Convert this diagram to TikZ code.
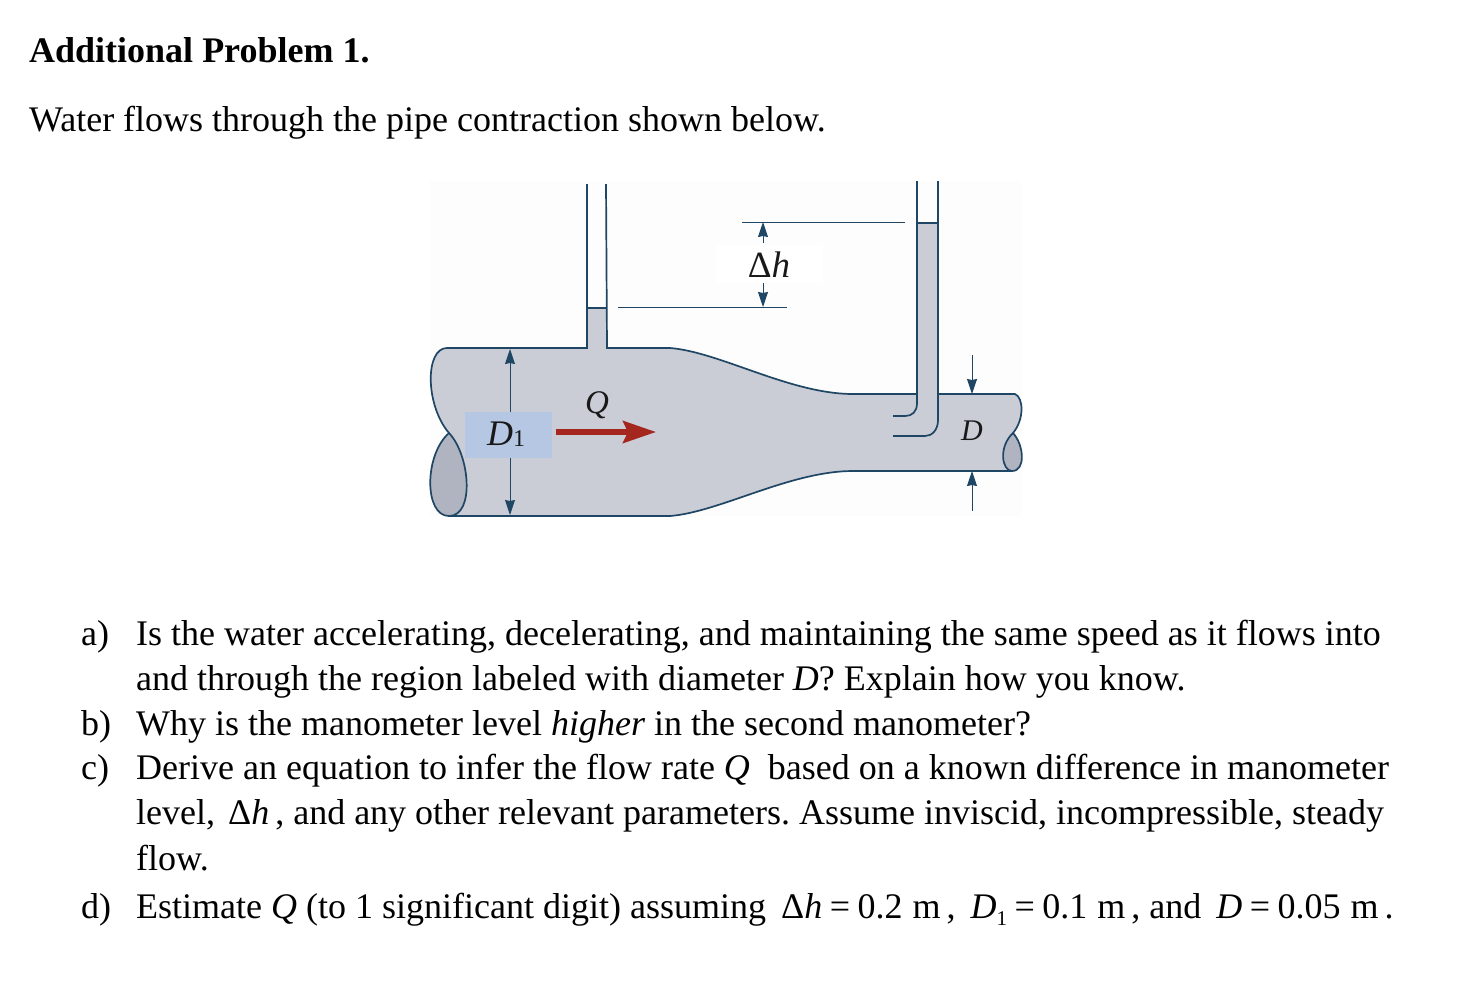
\documentclass[tikz,border=0pt]{standalone}
\usepackage{fontspec}
\setmainfont{Liberation Serif}
\usetikzlibrary{arrows.meta}
\definecolor{wallc}{HTML}{1F4664}
\definecolor{waterc}{HTML}{CBCDD6}
\definecolor{endc}{HTML}{B0B4C0}
\definecolor{boxc}{HTML}{B5C7E3}
\definecolor{redc}{HTML}{A5261E}
\definecolor{bgc}{HTML}{FDFDFD}
\newcommand{\subone}{{\fontsize{21}{21}\selectfont\raisebox{-7pt}{1}}}
\newcommand{\eqsign}{\hspace{7.5pt}=\hspace{7.5pt}}
\newcommand{\unitm}{\hspace{10pt}m}
\tikzset{
  txt/.style={anchor=base west,inner sep=0pt,font=\fontsize{36}{42}\selectfont},
  wall/.style={draw=wallc,line width=1.7pt},
  thin wall/.style={draw=wallc,line width=1pt},
  dim/.style={draw=wallc,line width=1pt,-{Stealth[length=15pt,width=10pt,inset=1pt]}},
  lab/.style={inner sep=0pt,font=\fontsize{36}{40}\selectfont\itshape,text=black!90}
}
\begin{document}
\begin{tikzpicture}[x=1pt,y=-1pt]
\useasboundingbox (0,0) rectangle (1482,994);
\fill[white] (0,0) rectangle (1482,994);
% text
\node[txt,font=\fontsize{36}{42}\selectfont\bfseries] (title) at (29,62) {Additional Problem 1.};
\node[txt] (intro) at (29,131) {Water flows through the pipe contraction shown below.};
\node[txt] (la) at (81,645) {a)};
\node[txt] (a1) at (136,645) {Is the water accelerating, decelerating, and maintaining the same speed as it flows into};
\node[txt] (a2) at (136,690) {and through the region labeled with diameter \textit{D}? Explain how you know.};
\node[txt] (lb) at (81,735) {b)};
\node[txt] (b1) at (136,735) {Why is the manometer level \textit{higher} in the second manometer?};
\node[txt] (lc) at (81,779) {c)};
\node[txt] (c1) at (136,779) {Derive an equation to infer the flow rate \textit{Q}\hspace{9pt} based on a known difference in manometer};
\node[txt] (c2) at (136,824) {\frenchspacing level,\hspace{4pt} Δ\textit{h}\,, and any other relevant parameters. Assume inviscid, incompressible, steady};
\node[txt] (c3) at (136,870) {flow.};
\node[txt] (ld) at (81,918) {d)};
\node[txt] (d1) at (136,918) {Estimate \textit{Q} (to 1 significant digit) assuming\, Δ\textit{h}\eqsign 0.2\unitm\,, \,\textit{D}\subone\eqsign 0.1\unitm\,, and \,\textit{D}\eqsign 0.05\unitm\,.};
% faint figure background
\fill[bgc] (430,181) rectangle (1022,516);
\fill[white] (716,245) rectangle (823,283);
% water body
\fill[waterc] (447,348) -- (587,348) -- (587,308) -- (607,308) -- (607,348) -- (670,348)
  .. controls (720,352) and (790,394) .. (853,394) -- (917,394) -- (917,223) -- (938,223) -- (938,394) -- (1015,394)
  .. controls (1024,398) and (1024,420) .. (1013,433)
  .. controls (1022,445) and (1026,471) .. (1012,471)
  -- (853,471) .. controls (790,471) and (720,512) .. (670,516) -- (449,516)
  .. controls (425,516) and (422,460) .. (449,433)
  .. controls (425,405) and (425,348) .. (447,348) -- cycle;
% end caps
\filldraw[wall,fill=endc] (449,433) .. controls (424,455) and (424,516) .. (449,516)
  .. controls (475,516) and (470,455) .. (449,433) -- cycle;
\filldraw[wall,fill=endc] (1013,433) .. controls (998,447) and (1002,471) .. (1012,471)
  .. controls (1026,471) and (1024,445) .. (1013,433) -- cycle;
% pipe outline
\draw[wall] (449,433) .. controls (425,405) and (425,348) .. (447,348) -- (587,348) -- (587,184);
\draw[wall] (606,184) -- (607,348) -- (670,348) .. controls (720,352) and (790,394) .. (853,394) -- (917,394);
\draw[wall] (449,516) -- (670,516) .. controls (720,512) and (790,471) .. (853,471) -- (1012,471);
\draw[wall] (938,394) -- (1015,394) .. controls (1024,398) and (1024,420) .. (1013,433);
% second manometer
\draw[wall] (917,181) -- (917,403) .. controls (917,412) and (912,416) .. (905,416) -- (893,416);
\draw[wall] (938,181) -- (938,420) .. controls (938,430) and (932,436) .. (925,436) -- (893,436);
% levels
\draw[wall] (587,308) -- (607,308);
\draw[wall] (917,223) -- (938,223);
% delta h
\coordinate (hu1) at (742,222); \coordinate (hu2) at (905,222);
\coordinate (hl1) at (618,307); \coordinate (hl2) at (787,307);
\draw[thin wall] (hu1) -- (hu2);
\draw[thin wall] (hl1) -- (hl2);
\coordinate (ha) at (763,243); \coordinate (hat) at (763,222);
\coordinate (hb) at (763,283); \coordinate (hbt) at (763,307);
\draw[dim] (ha) -- (hat);
\draw[dim] (hb) -- (hbt);
\node[lab,font=\fontsize{37}{40}\selectfont] (dh) at (769,265) {Δ\textit{h}};
% D1
\node[fill=boxc,minimum width=87pt,minimum height=46pt,inner sep=0pt,anchor=north west] (d1box) at (465,412) {};
\node[lab] (d1lab) at (506,434) {\textit{D}{\fontsize{24}{24}\selectfont\upshape\raisebox{-1pt}{1}}};
\coordinate (d1t) at (510,349); \coordinate (d1b) at (510,515);
\draw[dim] (d1box.north -| d1t) -- (d1t);
\draw[dim] (d1box.south -| d1b) -- (d1b);
% Q
\node[lab,font=\fontsize{33}{36}\selectfont\itshape] (qlab) at (597,405) {\textit{Q}};
\coordinate (q1) at (556,432); \coordinate (q2) at (656,432);
\draw[line width=5.5pt,draw=redc,-{Stealth[length=33pt,width=22pt,inset=5pt]}] (q1) -- (q2);
% D
\node[lab,font=\fontsize{30}{34}\selectfont\itshape] (dlab) at (972,431) {\textit{D}};
\coordinate (dt0) at (972,355); \coordinate (dt1) at (972,394);
\coordinate (db0) at (972,511); \coordinate (db1) at (972,471);
\draw[dim] (dt0) -- (dt1);
\draw[dim] (db0) -- (db1);
\end{tikzpicture}
\end{document}
